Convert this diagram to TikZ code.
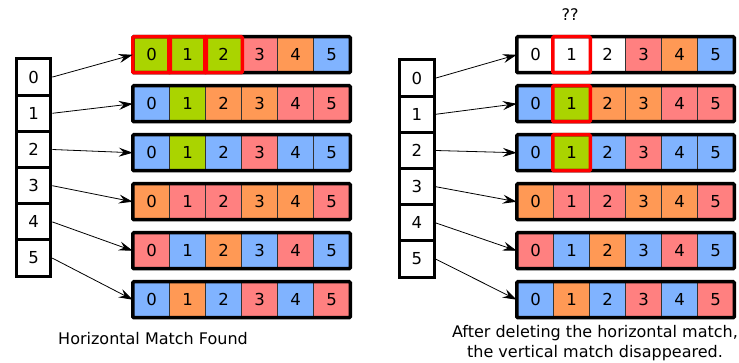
\documentclass[tikz,border=0pt]{standalone}
\usepackage{fontspec}
\setmainfont{DejaVu Sans}
\usetikzlibrary{arrows.meta, positioning}
\definecolor{cB}{HTML}{80B3FF}
\definecolor{cR}{HTML}{FF8080}
\definecolor{cO}{HTML}{FF9955}
\definecolor{cG}{HTML}{AAD400}
\definecolor{cW}{HTML}{FFFFFF}
\definecolor{hilite}{HTML}{FF0000}

\begin{document}
\begin{tikzpicture}[x=1pt, y=-1pt,
  cell/.style={draw=black!80, line width=1.5pt, minimum width=36pt, minimum height=34.5pt,
    inner sep=0pt, anchor=north west, font=\fontsize{16.5}{16.5}\selectfont},
  idx/.style={draw=black, line width=3pt, fill=white, minimum width=34.5pt, minimum height=36.2pt,
    inner sep=0pt, anchor=north west, font=\fontsize{16.5}{16.5}\selectfont},
  rowbox/.style={draw=black, line width=3.5pt, rounded corners=1pt},
  hl/.style={draw=hilite, line width=3.5pt, rounded corners=1pt},
  link/.style={-{Stealth[length=14pt, width=9pt, inset=5pt]}, line width=0.8pt},
  caption/.style={font=\fontsize{16}{20}\selectfont, align=center}]
  \useasboundingbox (0,0) rectangle (739,363);

  % left: horizontal match found
  \foreach \r/\cols in {0/{G,G,G,R,O,B}, 1/{B,G,O,O,R,R}, 2/{B,G,B,R,B,B},
                        3/{O,R,R,O,O,R}, 4/{R,B,O,B,R,B}, 5/{B,O,B,R,B,R}} {
    \foreach \c [count=\k from 0] in \cols
      \node[cell, fill=c\c] (L\r c\k) at (132.75+36*\k, 36.75+49*\r) {\k};
    \draw[rowbox] (L\r c0.north west) rectangle (L\r c5.south east);
  }
  \foreach \k in {0,1,2}
    \draw[hl] (L0c\k.north west) rectangle (L0c\k.south east);

  % right: after deleting the match
  \foreach \r/\cols in {0/{W,W,W,R,O,B}, 1/{B,G,O,O,R,R}, 2/{B,G,B,R,B,B},
                        3/{O,R,R,O,O,R}, 4/{R,B,O,B,R,B}, 5/{B,O,B,R,B,R}} {
    \foreach \c [count=\k from 0] in \cols
      \node[cell, fill=c\c] (R\r c\k) at (516.75+36*\k, 36.75+49*\r) {\k};
    \draw[rowbox] (R\r c0.north west) rectangle (R\r c5.south east);
  }
  \foreach \r in {0,1,2}
    \draw[hl] (R\r c1.north west) rectangle (R\r c1.south east);

  % index columns and links
  \foreach \i in {0,...,5} {
    \node[idx] (Li\i) at (14.8, 57.5+36.2*\i) {\i};
    \node[idx] (Ri\i) at (398.2, 58.5+36.2*\i) {\i};
    \draw[link] (Li\i.east) -- (L\i c0.west);
    \draw[link] (Ri\i.east) -- (R\i c0.west);
  }

  \node[caption] (qq) at (570, 15) {??};
  \node[caption] (capL) at (153, 339) {Horizontal Match Found};
  \node[caption] (capR) at (595, 343) {After deleting the horizontal match,\\the vertical match disappeared.};
\end{tikzpicture}
\end{document}
